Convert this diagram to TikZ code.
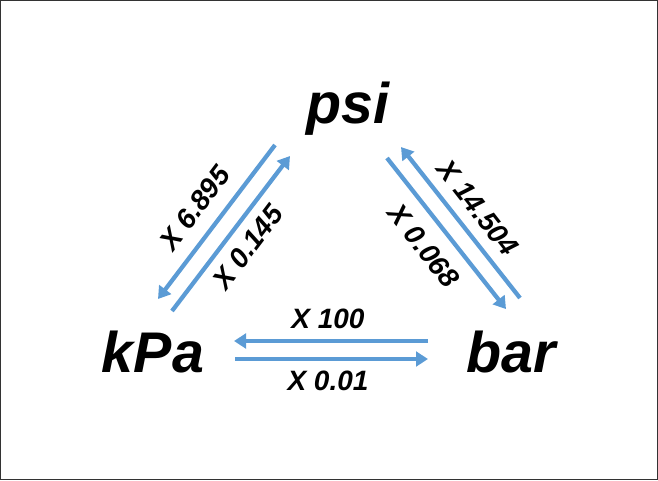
\documentclass[tikz,border=0pt]{standalone}
\usepackage{fontspec}
\setmainfont{Liberation Sans}
\usetikzlibrary{arrows.meta}
\definecolor{convblue}{HTML}{5B9BD5}
\tikzset{
  conv/.style={draw=convblue, line width=3.2pt, -{Triangle[length=9pt,width=11pt]}},
  unit/.style={font=\fontsize{43}{43}\selectfont\bfseries\itshape, anchor=base, inner sep=0pt},
  factor/.style={font=\fontsize{21}{21}\selectfont\bfseries\itshape, inner sep=0pt}
}
\begin{document}
\begin{tikzpicture}[x=0.75pt,y=-0.75pt]
\draw[black!80, line width=0.75pt] (0.5,0.5) rectangle (657.5,479.5);
\node[unit] (psi) at (348,123) {psi};
\node[unit] (kpa) at (153,372) {kPa};
\node[unit] (bar) at (511,372) {bar};
% psi <-> kPa
\coordinate (pk1) at (275,145);
\coordinate (pk2) at (158,299);
\coordinate (kp1) at (172,311);
\coordinate (kp2) at (290,156);
\draw[conv] (pk1) -- (pk2);
\draw[conv] (kp1) -- (kp2);
\node[factor, rotate=53] (fpk) at (195,208) {X 6.895};
\node[factor, rotate=53] (fkp) at (248,247) {X 0.145};
% psi <-> bar
\coordinate (bp1) at (520,298);
\coordinate (bp2) at (401,147);
\coordinate (pb1) at (387,158);
\coordinate (pb2) at (506,309);
\draw[conv] (bp1) -- (bp2);
\draw[conv] (pb1) -- (pb2);
\node[factor, rotate=-52] (fbp) at (478,208) {X 14.504};
\node[factor, rotate=-52] (fpb) at (424,246) {X 0.068};
% kPa <-> bar
\coordinate (bk1) at (428,341);
\coordinate (bk2) at (234,341);
\coordinate (kb1) at (235,359);
\coordinate (kb2) at (428,359);
\draw[conv] (bk1) -- (bk2);
\draw[conv] (kb1) -- (kb2);
\node[factor] (fbk) at (328,319) {X 100};
\node[factor] (fkb) at (328,381) {X 0.01};
\end{tikzpicture}
\end{document}
